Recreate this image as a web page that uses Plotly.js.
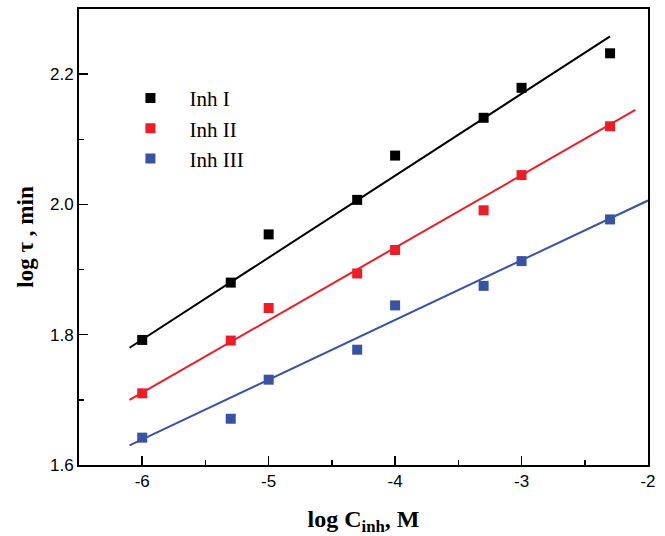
<!DOCTYPE html>
<html>
<head>
<meta charset="utf-8">
<script src="https://cdn.plot.ly/plotly-3.0.1.min.js"></script>
<style>html,body{margin:0;padding:0;background:#fff;}#chart{width:665px;height:536px;}</style>
</head>
<body>
<div id="chart"></div>
<script>
const logC = [-6, -5.3, -5, -4.3, -4, -3.3, -3, -2.3];
const inhI = [1.792, 1.880, 1.954, 2.007, 2.075, 2.133, 2.179, 2.232];
const inhII = [1.710, 1.791, 1.841, 1.894, 1.930, 1.991, 2.045, 2.120];
const inhIII = [1.642, 1.671, 1.731, 1.777, 1.845, 1.875, 1.913, 1.977];
// fitted line endpoints
const fitIx = [-6.1, -2.3], fitIy = [1.780, 2.258];
const fitIIx = [-6.1, -2.1], fitIIy = [1.700, 2.145];
const fitIIIx = [-6.1, -2.0], fitIIIy = [1.630, 2.006];
const names = ['Inh I', 'Inh II', 'Inh III'];
const colors = ['#000000', '#ee1c25', '#3953a4'];

const series = [inhI, inhII, inhIII];
const fits = [[fitIx, fitIy], [fitIIx, fitIIy], [fitIIIx, fitIIIy]];
const traces = [];
fits.forEach((f, i) => {
  traces.push({x: f[0], y: f[1], mode: 'lines', line: {color: colors[i], width: 2}, showlegend: false, hoverinfo: 'skip'});
});
series.forEach((s, i) => {
  traces.push({x: logC, y: s, mode: 'markers', name: names[i],
    marker: {symbol: 'square', size: 10, color: colors[i]}});
});

const axisCommon = {
  showgrid: false, zeroline: false, showline: true, linecolor: '#000', linewidth: 2,
  mirror: true, ticks: 'inside', ticklen: 9, tickwidth: 1.5, tickcolor: '#000',
  tickfont: {family: 'Liberation Sans, Arial, sans-serif', size: 17, color: '#000'}
};

const layout = {
  width: 665, height: 536,
  margin: {l: 79, r: 17, t: 9, b: 71},
  paper_bgcolor: '#fff', plot_bgcolor: '#fff',
  showlegend: true,
  legend: {x: 0.057, y: 0.849, xanchor: 'left', yanchor: 'top', bgcolor: 'rgba(0,0,0,0)',
    font: {family: 'Liberation Serif, Times New Roman, serif', size: 21, color: '#000'},
    itemwidth: 68, tracegroupgap: 0},
  xaxis: Object.assign({}, axisCommon, {
    range: [-6.5, -2], tickvals: [-6, -5, -4, -3, -2], ticktext: ['-6', '-5', '-4', '-3', '-2'],
    minor: {ticks: 'inside', ticklen: 5, tickwidth: 1.5, tickcolor: '#000', dtick: 0.5},
    title: {text: '<b>log C<sub>inh</sub>, M</b>', standoff: 20,
      font: {family: 'Liberation Serif, Times New Roman, serif', size: 24, color: '#000'}}
  }),
  yaxis: Object.assign({}, axisCommon, {
    range: [1.6, 2.3], tickvals: [1.6, 1.8, 2.0, 2.2], ticktext: ['1.6', '1.8', '2.0', '2.2'],
    minor: {ticks: 'inside', ticklen: 5, tickwidth: 1.5, tickcolor: '#000', dtick: 0.1},
    title: {text: '<b>log τ , min</b>', standoff: 10,
      font: {family: 'Liberation Serif, Times New Roman, serif', size: 23, color: '#000'}}
  })
};

Plotly.newPlot('chart', traces, layout, {staticPlot: true, displayModeBar: false});
</script>
</body>
</html>
